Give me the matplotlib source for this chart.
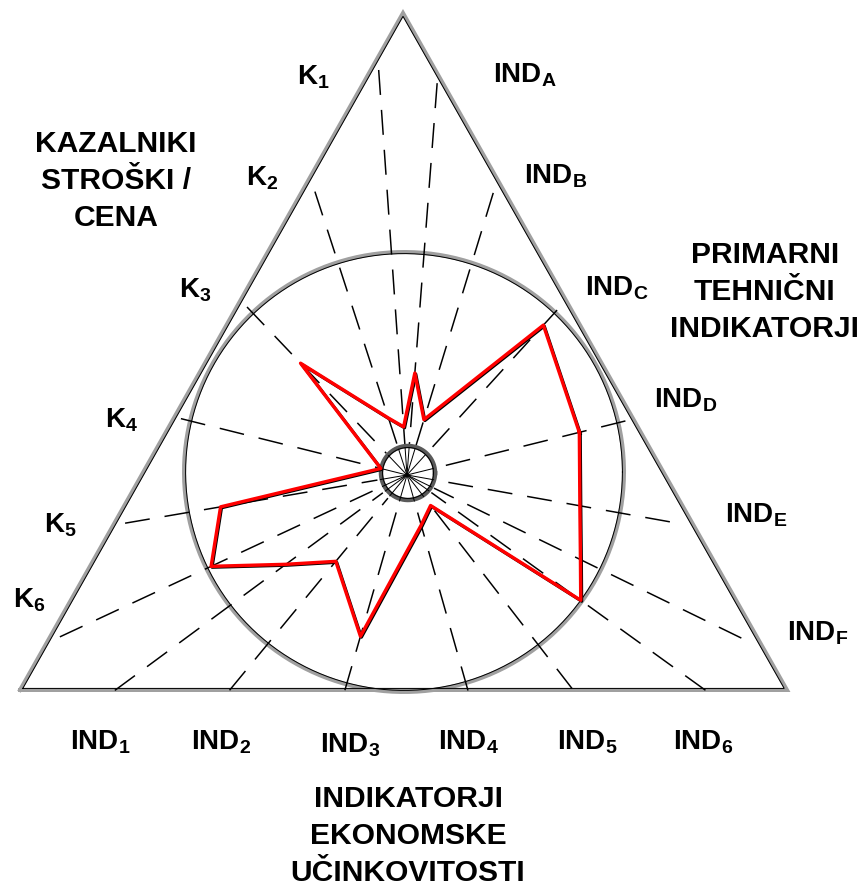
import numpy as np
import matplotlib
matplotlib.use('Agg')
import matplotlib.pyplot as plt
import matplotlib.transforms as mtransforms

plt.rcParams['font.family'] = ['Liberation Sans', 'DejaVu Sans']
plt.rcParams['font.weight'] = 'bold'
plt.rcParams['mathtext.fontset'] = 'custom'
plt.rcParams['mathtext.rm'] = 'Liberation Sans:bold'
plt.rcParams['mathtext.bf'] = 'Liberation Sans:bold'
plt.rcParams['mathtext.it'] = 'Liberation Sans:bold'
plt.rcParams['lines.scale_dashes'] = False

# podatki - vrednosti na skali 0..100 (0 = mali krog, 100 = veliki krog)
k_names = ['1', '2', '3', '4', '5', '6']
k_values = [11, 17, 66, 0, 84, 98]
abc_names = ['A', 'B', 'C', 'D', 'E', 'F']
abc_values = [39, 16, 91, 78, 77, 86]
num_names = ['1', '2', '3', '4', '5', '6']
num_values = [64, 44, 73, 13, 6, 97]

# postavitev (piksli slike)
k_ang = [94.0, 108.0, 133.6, 166.0, 189.7, 205.0]
k_len = [406, 298, 232, 233, 286, 383]
abc_ang = [85.6, 73.0, 47.7, 13.9, -10.1, -26.0]
abc_len = [393, 295, 223, 225, 267, 372]
num_ang = [216.4, 230.5, 253.9, 285.8, 307.7, 324.2]
num_len = [363, 279, 224, 224, 270, 368]

k_pos = [(313, 77), (262, 178), (195, 290), (122, 420), (60, 525), (29, 600)]
abc_pos = [(525, 75), (556, 176), (617, 288), (686, 400), (756, 515), (818, 633)]
num_pos = [(100, 742), (221, 742), (350, 745), (468, 742), (587, 742), (703, 742)]

ox, oy = 407, 475      # izhodisce zarkov
cx, cy, R = 404, 472, 220   # veliki krog
sx, sy, r0 = 408, 473, 27   # mali krog
px = 0.72  # pt na piksel

fig = plt.figure(figsize=(8.6, 8.9), dpi=100)
ax = fig.add_axes([0, 0, 1, 1])
ax.set_xlim(0, 860)
ax.set_ylim(890, 0)
ax.axis('off')

# trikotnik
tri = np.array([[20, 690], [787, 690], [403, 13], [20, 690]], dtype=float)
ax.plot(tri[:, 0], tri[:, 1], color='#a0a0a0', lw=4*px, solid_joinstyle='miter', zorder=2)
tri_in = np.c_[cx + (tri[:, 0]-cx)*(1-1.6/R), cy + (tri[:, 1]-cy)*(1-1.6/R)]
ax.plot(tri_in[:, 0], tri_in[:, 1], color='black', lw=1*px, solid_joinstyle='miter', zorder=3)

# krogi
t = np.linspace(0, 2*np.pi, 500)
ax.plot(cx + R*np.cos(t), cy + R*np.sin(t), color='#a0a0a0', lw=4*px, zorder=2)
ax.plot(cx + (R-1.6)*np.cos(t), cy + (R-1.6)*np.sin(t), color='black', lw=1*px, zorder=3)
ax.plot(sx + r0*np.cos(t), sy + r0*np.sin(t), color='#5a5a5a', lw=4.5*px, zorder=4)
ax.plot(sx + (r0-1.5)*np.cos(t), sy + (r0-1.5)*np.sin(t), color='black', lw=1*px, zorder=4)

# zarki
all_ang = k_ang + abc_ang + num_ang
all_len = k_len + abc_len + num_len
all_val = k_values + abc_values + num_values
for a, L in zip(all_ang, all_len):
    c, s = np.cos(np.radians(a)), np.sin(np.radians(a))
    ax.plot([ox + L*c, ox + 30*c], [oy - L*s, oy - 30*s], color='black',
            lw=1.5*px, ls=(0, (18, 10.8)), zorder=3)
    ax.plot([ox, ox + r0*c], [oy, oy - r0*s], color='black', lw=1*px, zorder=4)

# rdeci poligon
order = np.argsort(np.mod(all_ang, 360))
ang = np.radians(np.array(all_ang)[order])
rad = r0 + np.array(all_val)[order]/100*(R - r0)
xs = ox + rad*np.cos(ang)
ys = oy - rad*np.sin(ang)
xs = np.r_[xs, xs[0]]
ys = np.r_[ys, ys[0]]
shadow = ax.transData + mtransforms.ScaledTranslation(1.0/100, -1.0/100, fig.dpi_scale_trans)
ax.plot(xs, ys, color='black', lw=3*px, transform=shadow, zorder=5)
ax.plot(xs, ys, color='#ff0000', lw=3.4*px, zorder=6)

# oznake
for n, (x, y) in zip(k_names, k_pos):
    ax.text(x, y, r'$\mathbf{K_{%s}}$' % n, ha='center', va='center', fontsize=20)
for n, (x, y) in zip(abc_names, abc_pos):
    ax.text(x, y, r'$\mathbf{IND_{%s}}$' % n, ha='center', va='center', fontsize=20)
for n, (x, y) in zip(num_names, num_pos):
    ax.text(x, y, r'$\mathbf{IND_{%s}}$' % n, ha='center', va='center', fontsize=20)

ax.text(116, 181, 'KAZALNIKI\nSTROŠKI /\nCENA', ha='center', va='center',
        fontsize=21.6, fontweight='bold', linespacing=1.42)
ax.text(765, 292, 'PRIMARNI\nTEHNIČNI\nINDIKATORJI', ha='center', va='center',
        fontsize=21.6, fontweight='bold', linespacing=1.42)
ax.text(408, 836, 'INDIKATORJI\nEKONOMSKE\nUČINKOVITOSTI', ha='center', va='center',
        fontsize=21.6, fontweight='bold', linespacing=1.4)

fig.savefig('out.png', dpi=100)
